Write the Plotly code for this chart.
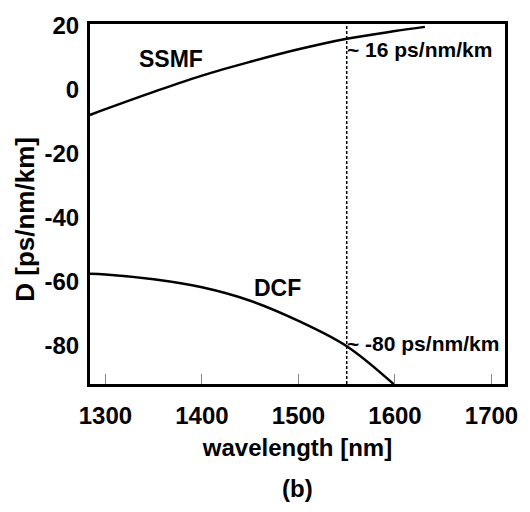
import plotly.graph_objects as go

# Data
ssmf_wl = [1284, 1300, 1350, 1400, 1450, 1500, 1550, 1600, 1631]
ssmf_d = [-8.0, -6.2, -0.8, 4.3, 8.6, 12.5, 15.8, 18.2, 19.5]

dcf_wl = [1284, 1300, 1350, 1400, 1450, 1500, 1550, 1600]
dcf_d = [-57.6, -57.8, -59.3, -61.8, -66.0, -72.3, -80.2, -92.4]

marker_wl = 1550
x_ticks = [1300, 1400, 1500, 1600, 1700]
x_labels = ["1300", "1400", "1500", "1600", "1700"]
y_ticks = [20, 0, -20, -40, -60, -80]
y_labels = ["20", "0", "-20", "-40", "-60", "-80"]
x_range = [1284, 1714]
y_range = [-92.0, 20.4]

FONT = "Liberation Sans, Arial, sans-serif"

fig = go.Figure()
fig.add_trace(go.Scatter(x=ssmf_wl, y=ssmf_d, mode="lines", line=dict(color="black", width=2.5, shape="spline"),
                         showlegend=False, hoverinfo="skip"))
fig.add_trace(go.Scatter(x=dcf_wl, y=dcf_d, mode="lines", line=dict(color="black", width=2.5, shape="spline"),
                         showlegend=False, hoverinfo="skip"))
fig.add_trace(go.Scatter(x=[marker_wl, marker_wl], y=y_range, mode="lines",
                         line=dict(color="black", width=1.5, dash="3px,2px"),
                         showlegend=False, hoverinfo="skip"))

bold = dict(family=FONT, color="black", weight="bold")

fig.add_annotation(x=1368, y=9.5, text="SSMF", showarrow=False, font=dict(size=23, **bold))
fig.add_annotation(x=1478, y=-62.0, text="DCF", showarrow=False, font=dict(size=23, **bold))
fig.add_annotation(x=marker_wl, y=12.3, text="~ 16 ps/nm/km", showarrow=False, xanchor="left",
                   xshift=-2, font=dict(size=21, **bold))
fig.add_annotation(x=marker_wl, y=-79.5, text="~ -80 ps/nm/km", showarrow=False, xanchor="left",
                   xshift=-2, font=dict(size=21, **bold))
fig.add_annotation(xref="paper", yref="paper", x=-0.156, y=0.457, xanchor="center", yanchor="middle",
                   text="D [ps/nm/km]", textangle=-90,
                   showarrow=False, font=dict(size=26, **bold))
fig.add_annotation(xref="paper", yref="paper", x=0.5, y=-0.291, xanchor="center", yanchor="middle",
                   text="(b)", showarrow=False, font=dict(size=24, **bold))

fig.update_layout(
    width=530, height=512,
    margin=dict(l=90, r=16, t=16, b=128),
    plot_bgcolor="white", paper_bgcolor="white",
    font=dict(family=FONT, color="black"),
)
fig.update_xaxes(range=x_range, tickvals=x_ticks, ticktext=x_labels, ticks="inside", ticklen=10, tickwidth=1,
                 tickcolor="#888", showgrid=False, zeroline=False, showline=True, linewidth=3,
                 linecolor="black", mirror=True,
                 tickfont=dict(size=24, **bold), ticklabelstandoff=8,
                 title=dict(text="wavelength [nm]", font=dict(size=24, **bold), standoff=12))
fig.update_yaxes(range=y_range, tickvals=y_ticks, ticktext=y_labels, ticks="", showgrid=False, zeroline=False,
                 showline=True, linewidth=3, linecolor="black", mirror=True,
                 tickfont=dict(size=24, **bold), ticklabelstandoff=3)

fig.write_html("out.html")
